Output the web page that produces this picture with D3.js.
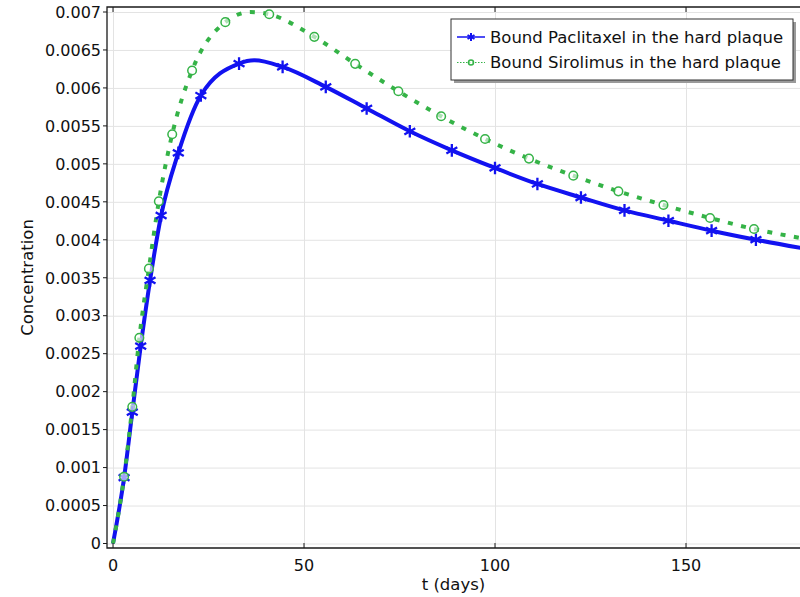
<!DOCTYPE html>
<html>
<head>
<meta charset="utf-8">
<script src="https://cdn.jsdelivr.net/npm/d3@7"></script>
<style>
    html, body { margin: 0; padding: 0; background: #fff; }
    svg { display: block; font-family: 'DejaVu Sans', sans-serif; }
    .grid line { stroke: #e3e3e3; stroke-width: 1; }
    .grid path { display: none; }
</style>
</head>
<body>
<div class="concentration-chart"></div>
<script>
// values
const xTickLabels = ['0', '50', '100', '150'];
const yTickLabels = ['0', '0.0005', '0.001', '0.0015', '0.002', '0.0025', '0.003', '0.0035',
    '0.004', '0.0045', '0.005', '0.0055', '0.006', '0.0065', '0.007'];

const seriesNames = ['Bound Paclitaxel in the hard plaque', 'Bound Sirolimus in the hard plaque'];

// marker points, paclitaxel
const paclitaxelDays = [2.9, 5.05, 7.25, 9.7, 12.6, 17.1, 23.0, 33.0, 44.4, 55.7, 66.4, 77.7,
    88.7, 100.0, 111.1, 122.5, 133.9, 145.4, 156.7, 168.3];
const paclitaxelConc = [0.000867, 0.00173, 0.0026, 0.003465, 0.00432, 0.005144, 0.0059, 0.00632,
    0.006277, 0.006014, 0.00573, 0.005429, 0.005178, 0.004946, 0.004735, 0.004557, 0.004387,
    0.004251, 0.00412, 0.004001];
// extra points on the curve between markers (start, peak, right edge)
const paclitaxelExtraDays = [0, 37, 181];
const paclitaxelExtraConc = [0, 0.006363, 0.003885];

// marker points, sirolimus
const sirolimusDays = [2.9, 5.05, 6.9, 9.4, 12.0, 15.5, 20.7, 29.4, 40.9, 52.7, 63.4, 74.7,
    85.9, 97.4, 108.9, 120.5, 132.3, 144.1, 156.3, 167.8];
const sirolimusConc = [0.00088, 0.0018, 0.00271, 0.00362, 0.004506, 0.00539, 0.00623, 0.006866,
    0.00697, 0.006673, 0.006317, 0.005956, 0.005627, 0.005328, 0.005069, 0.004845, 0.004638,
    0.004458, 0.004287, 0.004142];
const sirolimusExtraDays = [0, 36, 181];
const sirolimusExtraConc = [0, 0.0070, 0.004015];

const zip = (xs, ys) => xs.map((x, i) => ({ t: x, c: ys[i] }));
const byT = (a, b) => a.t - b.t;

const series = [
    {
        name: seriesNames[0],
        color: '#1212f0',
        markers: zip(paclitaxelDays, paclitaxelConc),
        line: zip(paclitaxelDays, paclitaxelConc).concat(zip(paclitaxelExtraDays, paclitaxelExtraConc)).sort(byT),
        dash: null,
        marker: 'asterisk'
    },
    {
        name: seriesNames[1],
        color: '#35b347',
        markers: zip(sirolimusDays, sirolimusConc),
        line: zip(sirolimusDays, sirolimusConc).concat(zip(sirolimusExtraDays, sirolimusExtraConc)).sort(byT),
        dash: '5,8.5',
        marker: 'circle'
    }
];

// layout
const width = 800;
const height = 597;
const frame = { left: 107, right: 800, top: 7, bottom: 548 };

const x = d3.scaleLinear().domain([0, 150]).range([113, 686]);
const y = d3.scaleLinear().domain([0, 0.007]).range([543.5, 12]);

const xTicks = xTickLabels.map(Number);
const yTicks = yTickLabels.map(Number);

const svg = d3.select('.concentration-chart').append('svg')
    .attr('width', width)
    .attr('height', height);

svg.append('defs').append('clipPath')
    .attr('id', 'plot-clip')
    .append('rect')
    .attr('x', frame.left)
    .attr('y', frame.top)
    .attr('width', frame.right - frame.left)
    .attr('height', frame.bottom - frame.top);

// grid
svg.append('g')
    .attr('class', 'grid')
    .attr('transform', `translate(${frame.left},0)`)
    .call(d3.axisLeft(y).tickValues(yTicks).tickSize(-(frame.right - frame.left)).tickFormat(''));

svg.append('g')
    .attr('class', 'grid')
    .attr('transform', `translate(0,${frame.bottom})`)
    .call(d3.axisBottom(x).tickValues(xTicks).tickSize(-(frame.bottom - frame.top)).tickFormat(''));

// curves
const plot = svg.append('g').attr('clip-path', 'url(#plot-clip)');

const line = d3.line()
    .x(d => x(d.t))
    .y(d => y(d.c))
    .curve(d3.curveMonotoneX);

series.forEach(s => {
    plot.append('path')
        .datum(s.line)
        .attr('fill', 'none')
        .attr('stroke', s.color)
        .attr('stroke-width', s.dash ? 4 : 4)
        .attr('stroke-dasharray', s.dash)
        .attr('d', line);
});

function drawMarker(sel, type, color, r, w) {
    if (type === 'circle') {
        sel.append('circle')
            .attr('r', r)
            .attr('fill', 'rgba(255,255,255,0.6)')
            .attr('stroke', color)
            .attr('stroke-width', 1.5);
    } else {
        // six spoke asterisk
        const spokes = [90, 30, 150].map(a => {
            const rad = a * Math.PI / 180;
            const dx = r * Math.cos(rad), dy = r * Math.sin(rad);
            return `M${-dx},${-dy}L${dx},${dy}`;
        }).join('');
        sel.append('path')
            .attr('d', spokes)
            .attr('fill', 'none')
            .attr('stroke', color)
            .attr('stroke-width', w || 2.3);
    }
}

series.forEach(s => {
    plot.append('g')
        .selectAll('g')
        .data(s.markers)
        .enter()
        .append('g')
        .attr('transform', d => `translate(${x(d.t)},${y(d.c)})`)
        .each(function () {
            drawMarker(d3.select(this), s.marker, s.color, s.marker === 'circle' ? 4.3 : 6.3);
        });
});

// frame and axes
const axisColor = '#1a1a1a';
const textColor = '#111';
svg.append('path')
    .attr('d', `M${frame.right},${frame.top}H${frame.left}V${frame.bottom}H${frame.right}`)
    .attr('fill', 'none')
    .attr('stroke', axisColor)
    .attr('stroke-width', 1.3);

// y ticks, outside
const yAxis = svg.append('g');
yAxis.selectAll('line')
    .data(yTicks)
    .enter()
    .append('line')
    .attr('x1', frame.left - 4)
    .attr('x2', frame.left)
    .attr('y1', d => y(d))
    .attr('y2', d => y(d))
    .attr('stroke', axisColor);

yAxis.selectAll('text')
    .data(yTickLabels)
    .enter()
    .append('text')
    .attr('x', frame.left - 6)
    .attr('y', d => y(+d))
    .attr('dy', '0.36em')
    .attr('text-anchor', 'end')
    .attr('font-size', 16)
    .attr('fill', textColor)
    .text(d => d);

// x ticks, inside at top and bottom
const xAxis = svg.append('g');
xAxis.selectAll('line.bottom')
    .data(xTicks)
    .enter()
    .append('line')
    .attr('class', 'bottom')
    .attr('x1', d => x(d))
    .attr('x2', d => x(d))
    .attr('y1', frame.bottom)
    .attr('y2', frame.bottom - 5)
    .attr('stroke', axisColor);

xAxis.selectAll('line.top')
    .data(xTicks)
    .enter()
    .append('line')
    .attr('class', 'top')
    .attr('x1', d => x(d))
    .attr('x2', d => x(d))
    .attr('y1', frame.top)
    .attr('y2', frame.top + 5)
    .attr('stroke', axisColor);

xAxis.selectAll('text')
    .data(xTickLabels)
    .enter()
    .append('text')
    .attr('x', d => x(+d))
    .attr('y', 571)
    .attr('text-anchor', 'middle')
    .attr('font-size', 16)
    .attr('fill', textColor)
    .text(d => d);

// axis titles
svg.append('text')
    .attr('x', (frame.left + frame.right) / 2)
    .attr('y', 590)
    .attr('text-anchor', 'middle')
    .attr('font-size', 16.5)
    .attr('fill', textColor)
    .text('t (days)');

svg.append('text')
    .attr('transform', `translate(33,${(frame.top + frame.bottom) / 2}) rotate(-90)`)
    .attr('text-anchor', 'middle')
    .attr('font-size', 16.5)
    .attr('fill', textColor)
    .text('Concentration');

// legend
const legend = svg.append('g').attr('transform', 'translate(451,19)');
const legendW = 342;
const legendH = 61;

legend.append('rect')
    .attr('x', 3)
    .attr('y', 3)
    .attr('width', legendW)
    .attr('height', legendH)
    .attr('fill', '#9a9a9a');

legend.append('rect')
    .attr('width', legendW)
    .attr('height', legendH)
    .attr('fill', '#fff')
    .attr('stroke', '#333')
    .attr('stroke-width', 1);

const rows = legend.selectAll('g.row')
    .data(series)
    .enter()
    .append('g')
    .attr('class', 'row')
    .attr('transform', (d, i) => `translate(0,${18 + i * 25.5})`);

rows.append('line')
    .attr('x1', 6)
    .attr('x2', 34)
    .attr('stroke', d => d.color)
    .attr('stroke-width', d => d.dash ? 1 : 1.5)
    .attr('stroke-dasharray', d => d.dash ? '1.5,1.5' : null);

rows.append('g')
    .attr('transform', 'translate(20,0)')
    .each(function (d) {
        drawMarker(d3.select(this), d.marker, d.color, d.marker === 'circle' ? 2.5 : 4, 2);
    });

rows.append('text')
    .attr('x', 39)
    .attr('y', 5.5)
    .attr('font-size', 16.5)
    .attr('fill', textColor)
    .text(d => d.name);
</script>
</body>
</html>
